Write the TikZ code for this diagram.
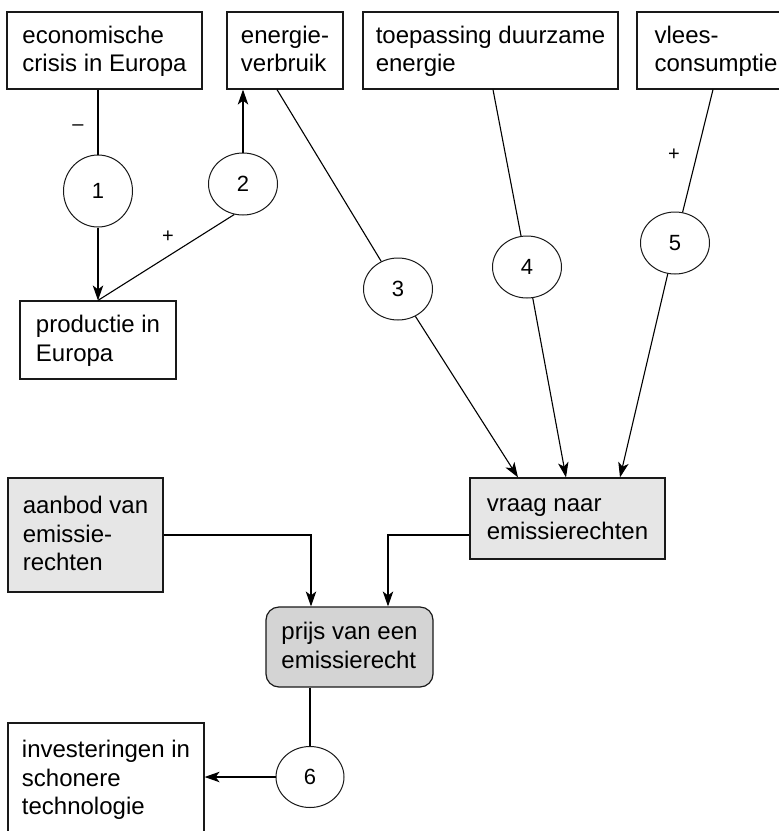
\documentclass[tikz,border=0pt]{standalone}
\usepackage{fontspec}
\setmainfont{Liberation Sans}
\usetikzlibrary{shapes.geometric,arrows.meta}
\definecolor{lightfill}{RGB}{230,230,230}
\definecolor{midfill}{RGB}{212,212,212}
\newcommand{\tstr}{\rule{0pt}{20pt}}
\newcommand{\bstr}{\rule[-6pt]{0pt}{6pt}}
\begin{document}
\begin{tikzpicture}[x=1pt,y=-1pt,
  box/.style={draw=black!90, line width=1.2pt, rectangle, align=left, inner sep=0pt,
    font=\fontsize{24}{28.7}\selectfont},
  circ/.style={draw=black!90, ellipse, line width=1pt, minimum width=69pt, minimum height=62pt,
    inner sep=0pt, font=\fontsize{22}{26}\selectfont},
  conn/.style={line width=1.1pt},
  arr/.style={conn, -{Stealth[length=15pt,width=10.5pt,inset=4pt]}},
  sign/.style={font=\fontsize{20}{24}\selectfont, inner sep=0pt}]
\useasboundingbox[fill=white] (0,0) rectangle (779,831);

% boxes
\node[box, minimum width=195pt, minimum height=77pt] (crisis) at (104.5,50.5) {\tstr economische\\crisis in Europa\bstr};
\node[box, minimum width=116pt, minimum height=77pt] (energie) at (285,50.5) {\tstr energie-\\verbruik\bstr};
\node[box, minimum width=255pt, minimum height=77pt] (duurzaam) at (490.5,50.5) {\tstr toepassing duurzame\\energie\bstr};
\node[box, minimum width=158pt, minimum height=77pt] (vlees) at (716,50.5) {\tstr vlees-\\consumptie\bstr};
\node[box, minimum width=156pt, minimum height=78pt] (productie) at (98,340) {\tstr productie in\\Europa\bstr};
\node[box, fill=lightfill, minimum width=155pt, minimum height=114pt] (aanbod) at (85.5,535) {\tstr aanbod van\\emissie-\\rechten\bstr};
\node[box, fill=lightfill, minimum width=195pt, minimum height=81pt] (vraag) at (567.5,518.5) {\tstr vraag naar\\emissierechten\bstr};
\node[box, fill=midfill, rounded corners=13pt, minimum width=167pt, minimum height=80pt] (prijs) at (349.5,647) {\tstr prijs van een\\emissierecht\bstr};
\node[box, minimum width=196pt, minimum height=112pt] (inv) at (106,779) {\tstr investeringen in\\schonere\\technologie\bstr};

% ellipses
\node[circ, minimum height=72pt] (e1) at (98,191) {1};
\node[circ] (e2) at (243,184) {2};
\node[circ] (e3) at (398,289) {3};
\node[circ] (e4) at (527,267) {4};
\node[circ] (e5) at (675,243) {5};
\node[circ, minimum width=68pt, minimum height=61pt] (e6) at (310,777) {6};

% signs
\node[sign] (minus1) at (78,128) {–};
\node[sign] (plus2) at (168,237) {+};
\node[sign] (plus5) at (674,155) {+};

% connector end points
\coordinate (t3) at ([xshift=-8pt]energie.south);
\coordinate (t4) at ([xshift=2.5pt]duurzaam.south);
\coordinate (t5) at ([xshift=-3pt]vlees.south);
\coordinate (v3) at ([xshift=-49.5pt]vraag.north);
\coordinate (v4) at ([xshift=-1.5pt]vraag.north);
\coordinate (v5) at ([xshift=52.5pt]vraag.north);
\coordinate (p1) at ([xshift=-38.5pt]prijs.north);
\coordinate (p2) at ([xshift=38.5pt]prijs.north);
\coordinate (q) at (vraag.west |- aanbod.east);

% connectors
\draw[conn] (crisis.south -| e1) -- (e1);
\draw[arr] (e1) -- (productie.north);
\draw[arr] (e2) -- (e2 |- energie.south);
\draw[conn] (e2.-106) -- (productie.north);
\draw[conn] (t3) -- (e3);
\draw[arr] (e3) -- (v3);
\draw[conn] (t4) -- (e4);
\draw[arr] (e4) -- (v4);
\draw[conn] (t5) -- (e5);
\draw[arr] (e5) -- (v5);
\draw[arr] (aanbod.east) -| (p1);
\draw[arr] (q) -| (p2);
\draw[conn] (prijs.south -| e6) -- (e6);
\draw[arr] (e6) -- (e6 -| inv.east);
\end{tikzpicture}
\end{document}
